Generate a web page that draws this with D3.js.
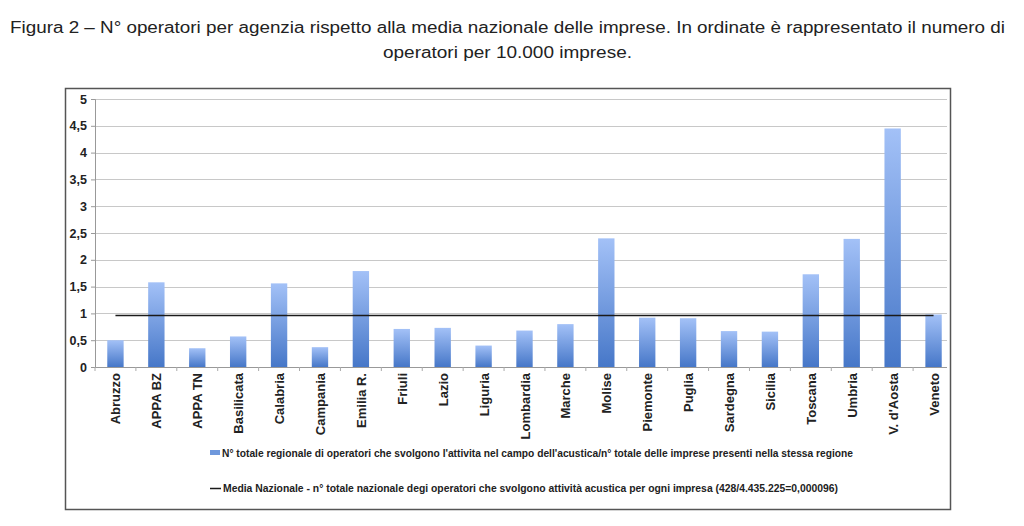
<!DOCTYPE html>
<html>
<head>
<meta charset="utf-8">
<script src="https://cdn.jsdelivr.net/npm/d3@7"></script>
<style>
  body { margin: 0; background: #fff; }
  svg { display: block; }
</style>
</head>
<body>
<div id="chart"></div>
<script>
// data
const regioni = ["Abruzzo", "APPA BZ", "APPA TN", "Basilicata", "Calabria", "Campania", "Emilia R.",
  "Friuli", "Lazio", "Liguria", "Lombardia", "Marche", "Molise", "Piemonte", "Puglia", "Sardegna",
  "Sicilia", "Toscana", "Umbria", "V. d'Aosta", "Veneto"];
const operatori = [0.50, 1.58, 0.35, 0.57, 1.56, 0.37, 1.79, 0.71, 0.73, 0.40, 0.68, 0.80, 2.40,
  0.92, 0.91, 0.67, 0.66, 1.73, 2.39, 4.45, 0.98];
const mediaNazionale = regioni.map(() => 0.96);
const yTicks = [0, 0.5, 1, 1.5, 2, 2.5, 3, 3.5, 4, 4.5, 5];
const titolo = ["Figura 2 \u2013 N\u00b0 operatori per agenzia rispetto alla media nazionale delle imprese. In ordinate \u00e8 rappresentato il numero di",
  "operatori per 10.000 imprese."];
const legenda = ["N\u00b0 totale regionale di operatori che svolgono l'attivita nel campo dell'acustica/n\u00b0 totale delle imprese presenti nella stessa regione",
  "Media Nazionale - n\u00b0 totale nazionale degi operatori che svolgono attivit\u00e0 acustica per ogni impresa (428/4.435.225=0,000096)"];

const width = 1024, height = 526;
const svg = d3.select("#chart").append("svg")
  .attr("width", width).attr("height", height)
  .style("font-family", "'Liberation Sans', Arial, sans-serif");

// title
svg.append("text").attr("x", 10).attr("y", 33)
  .attr("textLength", 995).attr("lengthAdjust", "spacingAndGlyphs")
  .style("font-size", "16px").attr("fill", "#222").text(titolo[0]);
svg.append("text").attr("x", 383).attr("y", 58)
  .attr("textLength", 249).attr("lengthAdjust", "spacingAndGlyphs")
  .style("font-size", "16px").attr("fill", "#222").text(titolo[1]);

// chart frame
svg.append("rect").attr("x", 65.5).attr("y", 88.5).attr("width", 885).attr("height", 421)
  .attr("fill", "none").attr("stroke", "#555").attr("stroke-width", 1.5);

const plotLeft = 95, plotRight = 954, plotTop = 99, plotBottom = 367, gridEnd = 947;

const x = d3.scaleBand().domain(regioni).range([plotLeft, plotRight])
  .paddingInner(0.6).paddingOuter(0.3);
const y = d3.scaleLinear().domain([0, 5]).range([plotBottom, plotTop]);

// gradient for bars
const grad = svg.append("defs").append("linearGradient")
  .attr("id", "barGrad").attr("x1", 0).attr("y1", 0).attr("x2", 0).attr("y2", 1);
grad.append("stop").attr("offset", "0%").attr("stop-color", "#a3c1f7");
grad.append("stop").attr("offset", "100%").attr("stop-color", "#4677c8");

// gridlines
svg.append("g").selectAll("line").data(yTicks.filter(d => d > 0)).join("line")
  .attr("x1", plotLeft).attr("x2", gridEnd)
  .attr("y1", d => Math.round(y(d)) + 0.5).attr("y2", d => Math.round(y(d)) + 0.5)
  .attr("stroke", "#c8c8c8").attr("stroke-width", 1.2);

// y axis
const yAxis = svg.append("g").attr("transform", `translate(${plotLeft},0)`)
  .call(d3.axisLeft(y).tickValues(yTicks).tickSize(4).tickPadding(4)
    .tickFormat(d => String(d).replace(".", ",")));
yAxis.select(".domain").attr("stroke", "#999");
yAxis.selectAll(".tick line").attr("stroke", "#999");
yAxis.selectAll("text").style("font-size", "12.5px").style("font-weight", "bold").attr("fill", "#222");

// bars
svg.append("g").selectAll("rect").data(operatori).join("rect")
  .attr("x", (d, i) => x(regioni[i]))
  .attr("width", x.bandwidth())
  .attr("y", d => y(d))
  .attr("height", d => y(0) - y(d))
  .attr("fill", "url(#barGrad)");

// x axis baseline with ticks at band boundaries
svg.append("line").attr("x1", plotLeft).attr("x2", gridEnd)
  .attr("y1", plotBottom + 0.5).attr("y2", plotBottom + 0.5).attr("stroke", "#999");
const gap = (x.step() - x.bandwidth()) / 2;
svg.append("g").selectAll("line").data(regioni).join("line")
  .attr("x1", d => x(d) - gap)
  .attr("x2", d => x(d) - gap)
  .attr("y1", plotBottom).attr("y2", plotBottom + 4)
  .attr("stroke", "#aaa");

// x labels
svg.append("g").selectAll("text").data(regioni).join("text")
  .attr("transform", d => `translate(${x(d) + x.bandwidth() / 2 + 5},${plotBottom + 6}) rotate(-90)`)
  .attr("text-anchor", "end")
  .style("font-size", "13px").style("font-weight", "bold").attr("fill", "#222")
  .text(d => d);

// national mean line
const line = d3.line()
  .x((d, i) => x(regioni[i]) + x.bandwidth() / 2)
  .y(d => y(d));
svg.append("path").datum(mediaNazionale)
  .attr("d", line).attr("fill", "none").attr("stroke", "#1a1a1a").attr("stroke-width", 1.5);

// legend
svg.append("rect").attr("x", 210).attr("y", 450).attr("width", 10).attr("height", 5).attr("fill", "#6f98dc");
svg.append("text").attr("x", 222).attr("y", 457)
  .attr("textLength", 631).attr("lengthAdjust", "spacingAndGlyphs")
  .style("font-size", "11.5px").style("font-weight", "bold").attr("fill", "#222")
  .text(legenda[0]);
svg.append("line").attr("x1", 210).attr("x2", 221).attr("y1", 488.5).attr("y2", 488.5)
  .attr("stroke", "#1a1a1a").attr("stroke-width", 1.5);
svg.append("text").attr("x", 223).attr("y", 492)
  .attr("textLength", 615).attr("lengthAdjust", "spacingAndGlyphs")
  .style("font-size", "11.5px").style("font-weight", "bold").attr("fill", "#222")
  .text(legenda[1]);
</script>
</body>
</html>
